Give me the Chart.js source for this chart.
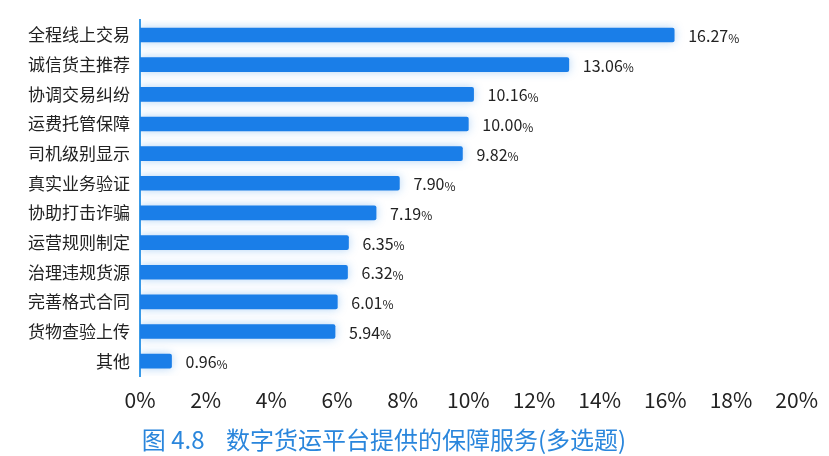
<!DOCTYPE html><html><head><meta charset="utf-8">
<script src="https://cdn.jsdelivr.net/npm/chart.js@4"></script>
<style>html,body{margin:0;background:#fff}#w{width:829px;height:456px}</style></head><body><div id="w"><canvas id="c"></canvas></div>
<script>
const categories=["全程线上交易","诚信货主推荐","协调交易纠纷","运费托管保障","司机级别显示","真实业务验证","协助打击诈骗","运营规则制定","治理违规货源","完善格式合同","货物查验上传","其他"];
const values=[16.27,13.06,10.16,10.00,9.82,7.90,7.19,6.35,6.32,6.01,5.94,0.96];
const xTicks=[0,2,4,6,8,10,12,14,16,18,20];
const titleText="图 4.8    数字货运平台提供的保障服务(多选题)";
const FONT='"Noto Sans CJK SC","Noto Sans",sans-serif';
const labels={id:'lab',afterDatasetsDraw(ch){const c=ch.ctx;const m=ch.getDatasetMeta(0);c.save();c.fillStyle='#222';c.textBaseline='middle';
m.data.forEach((b,i)=>{const t=values[i].toFixed(2);c.font='16px '+FONT;const x=b.x+14;c.fillText(t,x,b.y+1);const w=c.measureText(t).width;c.font='12px '+FONT;c.fillText('%',x+w,b.y+3);});
c.font='24px '+FONT;c.fillStyle='#2a86dc';c.textAlign='center';c.fillText(titleText,384,440);c.restore();}};
const shadow={id:'sh',beforeDatasetsDraw(ch){ch.ctx.save();ch.ctx.shadowColor='rgba(30,130,230,0.35)';ch.ctx.shadowBlur=10;},afterDatasetsDraw(ch){ch.ctx.restore();}};
new Chart(document.getElementById('c'),{type:'bar',data:{labels:categories,datasets:[{data:values,backgroundColor:'#1a7ee8',borderRadius:2,barThickness:14}]},
options:{indexAxis:'y',responsive:true,maintainAspectRatio:false,animation:false,layout:{padding:{top:7,right:24,left:0,bottom:0}},
plugins:{legend:{display:false},tooltip:{enabled:false}},
scales:{x:{min:0,max:20,afterBuildTicks:s=>{s.ticks=xTicks.map(v=>({value:v}));},afterFit:s=>{s.height=80;},grid:{display:false,drawTicks:false},border:{display:false},
ticks:{padding:11,color:'#222',font:{size:21,family:FONT},callback:v=>v+'%'}},
y:{afterFit:s=>{s.width=140;},grid:{display:false,drawTicks:false},border:{color:'#3a9be8',width:2},ticks:{padding:10,color:'#222',font:{size:17,family:FONT}}}}},
plugins:[shadow,labels]});
</script></body></html>
